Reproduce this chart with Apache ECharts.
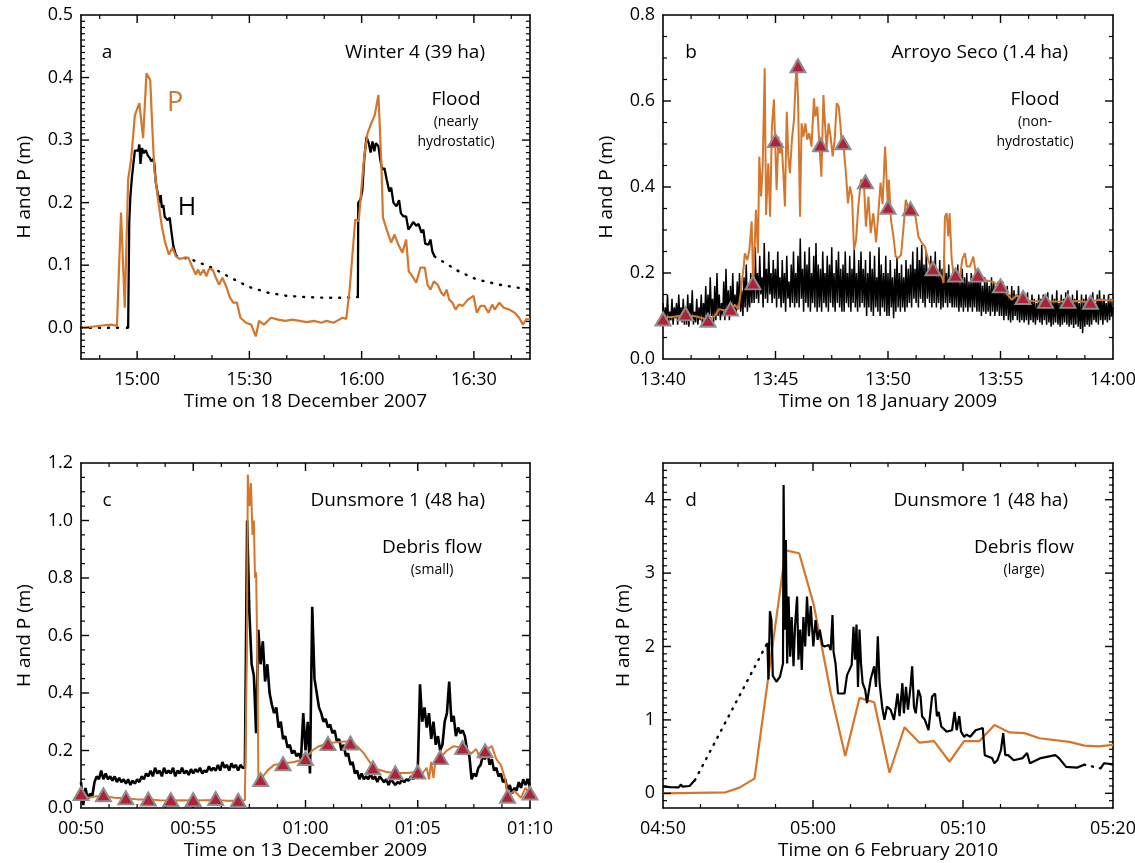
<!DOCTYPE html>
<html>
<head>
<meta charset="utf-8">
<script src="https://cdn.jsdelivr.net/npm/echarts@6/dist/echarts.min.js"></script>
<style>
  html, body { margin: 0; padding: 0; background: #fff; }
  #chart { width: 1135px; height: 863px; }
</style>
</head>
<body>
<div id="chart"></div>
<script>
// ---- panel a : Winter 4, minutes after 14:45 ----
const aStart = '14:45'
const aTicks = ['15:00', '15:30', '16:00', '16:30']
const aYTicks = ['0.0', '0.1', '0.2', '0.3', '0.4', '0.5']
const aP = [[0,0],[3.4,0.002],[6.2,0.004],[8.1,0.005],[9.6,0.003],[10.7,0.184],[11.7,0.032],[12.6,0.237],[13.4,0.269],[14.4,0.34],[15.6,0.359],[16.6,0.303],[17.5,0.407],[18.5,0.396],[19.0,0.327],[19.6,0.253],[20.6,0.205],[21.6,0.162],[22.5,0.136],[23.5,0.117],[24.4,0.128],[25.4,0.114],[26.3,0.11],[27.8,0.112],[28.7,0.112],[29.7,0.098],[30.7,0.085],[31.3,0.093],[31.9,0.084],[32.8,0.093],[33.5,0.082],[34.2,0.094],[35.2,0.093],[35.9,0.082],[36.9,0.069],[37.8,0.08],[38.8,0.066],[39.8,0.048],[40.7,0.04],[41.7,0.04],[42.6,0.016],[44.1,0.008],[45.5,0.005],[46.7,-0.014],[47.6,0.011],[48.9,0.005],[50.8,0.016],[52.7,0.013],[54.6,0.011],[56.5,0.013],[58.4,0.011],[60.3,0.009],[62.3,0.011],[64.2,0.008],[65.6,0.011],[67.5,0.008],[69.0,0.013],[69.9,0.016],[70.9,0.014],[71.8,0.061],[73.3,0.173],[74.2,0.17],[74.7,0.205],[75.7,0.274],[76.6,0.311],[77.6,0.327],[78.5,0.34],[79.5,0.372],[80.3,0.258],[80.7,0.176],[81.7,0.157],[82.9,0.136],[83.8,0.149],[84.8,0.133],[85.9,0.12],[86.9,0.141],[87.6,0.09],[88.6,0.082],[89.6,0.072],[90.7,0.096],[91.9,0.096],[92.6,0.069],[93.4,0.061],[94.3,0.074],[95.3,0.069],[96.3,0.056],[97.0,0.051],[97.7,0.061],[98.4,0.045],[99.3,0.04],[100.1,0.029],[101,0.037],[102,0.035],[103.4,0.045],[104.9,0.051],[105.8,0.024],[106.8,0.035],[107.8,0.035],[108.9,0.024],[109.9,0.037],[110.6,0.029],[111.8,0.04],[113,0.032],[114.5,0.029],[115.9,0.024],[117.1,0.016],[118.1,0.005],[119.1,0.014],[120,0.013]]
const aH1 = [[12.0,0],[12.6,0],[12.9,0.17],[13.2,0.21],[13.6,0.24],[14.0,0.262],[14.4,0.283],[14.9,0.28],[15.3,0.283],[15.6,0.293],[15.9,0.262],[16.3,0.287],[16.8,0.279],[17.3,0.284],[17.8,0.276],[18.3,0.272],[18.8,0.266],[19.3,0.27],[19.6,0.262],[20.0,0.232],[20.5,0.215],[21.0,0.2],[21.3,0.212],[21.6,0.192],[22.0,0.196],[22.4,0.177],[22.8,0.18],[23.2,0.172],[23.7,0.176],[24.2,0.152],[24.7,0.13],[25.4,0.115]]
const aH2 = [[74.0,0.049],[74.1,0.2],[74.7,0.205],[75.2,0.22],[75.7,0.27],[76.3,0.305],[76.9,0.295],[77.4,0.28],[77.9,0.298],[78.4,0.282],[78.8,0.295],[79.5,0.29],[80.0,0.268],[80.5,0.253],[81.1,0.255],[81.7,0.237],[82.4,0.218],[82.9,0.224],[83.5,0.2],[84.3,0.194],[85.0,0.204],[85.5,0.183],[86.2,0.178],[86.9,0.178],[87.5,0.157],[88.1,0.162],[88.8,0.169],[89.6,0.163],[90.2,0.166],[91.0,0.152],[91.5,0.157],[92.0,0.134],[92.9,0.133],[93.4,0.141],[93.9,0.122],[94.5,0.114]]
// dotted (estimated) parts of H
const aHd1 = [[0,0],[12,0]]
const aHd2 = [[25.4,0.115],[30,0.108],[35,0.096],[40,0.08],[45,0.065],[50,0.056],[55,0.051],[60,0.049],[65,0.048],[70,0.048],[74,0.049]]
const aHd3 = [[94.5,0.114],[97.2,0.104],[101,0.09],[105.8,0.077],[112.5,0.068],[120,0.061]]

// ---- panel b : Arroyo Seco, minutes after 13:40 ----
const bStart = '13:40'
const bTicks = ['13:40', '13:45', '13:50', '13:55', '14:00']
const bYTicks = ['0.0', '0.2', '0.4', '0.6', '0.8']
// H sampled every 0.05 min (one row per minute)
const bH = [
  0.13,0.08,0.12,0.09,0.15,0.085,0.11,0.09,0.14,0.08,0.12,0.095,0.13,0.08,0.15,0.09,0.12,0.085,0.14,0.08,
  0.12,0.08,0.15,0.075,0.13,0.09,0.16,0.08,0.11,0.085,0.14,0.08,0.12,0.09,0.15,0.08,0.13,0.09,0.17,0.085,
  0.15,0.09,0.19,0.1,0.14,0.085,0.17,0.09,0.2,0.1,0.15,0.09,0.13,0.1,0.18,0.09,0.21,0.1,0.16,0.09,
  0.17,0.1,0.2,0.11,0.15,0.1,0.18,0.12,0.2,0.11,0.16,0.1,0.19,0.12,0.22,0.11,0.17,0.12,0.2,0.13,
  0.22,0.13,0.26,0.14,0.2,0.13,0.24,0.15,0.19,0.12,0.27,0.14,0.21,0.13,0.25,0.15,0.2,0.13,0.23,0.14,
  0.21,0.12,0.25,0.14,0.19,0.12,0.23,0.13,0.2,0.11,0.24,0.14,0.18,0.12,0.22,0.13,0.25,0.12,0.2,0.13,
  0.24,0.12,0.28,0.14,0.21,0.11,0.25,0.13,0.22,0.12,0.26,0.11,0.2,0.13,0.24,0.12,0.27,0.11,0.22,0.12,
  0.21,0.11,0.25,0.13,0.2,0.12,0.24,0.11,0.22,0.13,0.26,0.12,0.2,0.11,0.23,0.13,0.25,0.12,0.21,0.11,
  0.22,0.11,0.25,0.13,0.2,0.12,0.24,0.11,0.21,0.13,0.255,0.12,0.2,0.11,0.23,0.12,0.25,0.13,0.21,0.12,
  0.23,0.1,0.2,0.12,0.25,0.11,0.21,0.1,0.24,0.12,0.19,0.11,0.26,0.1,0.22,0.12,0.2,0.11,0.24,0.1,
  0.2,0.1,0.23,0.12,0.19,0.095,0.21,0.11,0.235,0.12,0.2,0.11,0.22,0.12,0.19,0.11,0.23,0.12,0.21,0.13,
  0.22,0.12,0.25,0.14,0.21,0.13,0.26,0.12,0.23,0.14,0.265,0.13,0.22,0.12,0.25,0.14,0.21,0.13,0.24,0.12,
  0.22,0.13,0.25,0.12,0.2,0.13,0.23,0.115,0.21,0.12,0.24,0.13,0.2,0.12,0.22,0.13,0.19,0.12,0.21,0.12,
  0.2,0.12,0.22,0.11,0.18,0.12,0.21,0.11,0.19,0.12,0.2,0.11,0.18,0.12,0.2,0.11,0.19,0.12,0.21,0.11,
  0.19,0.11,0.2,0.1,0.17,0.11,0.19,0.105,0.18,0.11,0.17,0.1,0.19,0.11,0.18,0.1,0.17,0.11,0.18,0.1,
  0.17,0.1,0.18,0.09,0.16,0.1,0.17,0.09,0.15,0.085,0.17,0.09,0.16,0.1,0.15,0.09,0.17,0.085,0.15,0.09,
  0.15,0.085,0.14,0.09,0.155,0.08,0.13,0.09,0.15,0.085,0.14,0.08,0.13,0.09,0.15,0.085,0.14,0.08,0.15,0.09,
  0.14,0.08,0.155,0.085,0.13,0.075,0.15,0.08,0.14,0.085,0.16,0.08,0.13,0.075,0.15,0.08,0.14,0.085,0.155,0.08,
  0.16,0.075,0.13,0.08,0.15,0.072,0.14,0.08,0.16,0.075,0.13,0.07,0.15,0.06,0.14,0.075,0.15,0.08,0.13,0.075,
  0.14,0.08,0.155,0.09,0.13,0.085,0.15,0.08,0.16,0.09,0.14,0.08,0.15,0.09,0.13,0.085,0.15,0.09,0.14,0.1,
  0.12
]
const bP = [[0,0.1],[0.3,0.097],[1.0,0.102],[1.5,0.099],[2.0,0.091],[2.3,0.1],[2.5,0.116],[2.7,0.113],[3.0,0.116],[3.2,0.126],[3.35,0.115],[3.45,0.153],[3.57,0.207],[3.64,0.246],[3.75,0.23],[3.84,0.254],[3.94,0.32],[4.01,0.169],[4.13,0.347],[4.22,0.246],[4.28,0.471],[4.36,0.378],[4.43,0.447],[4.52,0.676],[4.58,0.335],[4.68,0.455],[4.76,0.331],[4.84,0.54],[4.93,0.604],[4.98,0.51],[5.05,0.393],[5.13,0.517],[5.2,0.478],[5.27,0.502],[5.35,0.432],[5.42,0.355],[5.5,0.575],[5.57,0.471],[5.64,0.432],[5.73,0.51],[5.82,0.556],[5.88,0.626],[5.94,0.695],[6.01,0.587],[6.09,0.331],[6.16,0.548],[6.24,0.517],[6.33,0.548],[6.41,0.51],[6.5,0.525],[6.6,0.494],[6.71,0.606],[6.77,0.564],[6.86,0.587],[6.95,0.497],[7.04,0.424],[7.13,0.614],[7.2,0.548],[7.27,0.486],[7.36,0.548],[7.45,0.517],[7.54,0.471],[7.63,0.51],[7.72,0.595],[7.81,0.587],[7.88,0.548],[7.94,0.5],[8.04,0.486],[8.13,0.432],[8.22,0.362],[8.31,0.401],[8.4,0.378],[8.49,0.254],[8.58,0.277],[8.68,0.355],[8.8,0.417],[8.93,0.409],[9.02,0.308],[9.13,0.378],[9.23,0.293],[9.35,0.339],[9.47,0.271],[9.57,0.339],[9.67,0.41],[9.76,0.36],[9.87,0.494],[9.94,0.417],[10.0,0.351],[10.04,0.417],[10.13,0.324],[10.24,0.285],[10.34,0.238],[10.46,0.235],[10.58,0.242],[10.68,0.3],[10.79,0.37],[10.9,0.351],[11.05,0.347],[11.2,0.339],[11.35,0.285],[11.5,0.27],[11.64,0.262],[11.79,0.23],[11.94,0.207],[12.09,0.215],[12.24,0.2],[12.39,0.192],[12.47,0.177],[12.53,0.331],[12.61,0.339],[12.68,0.285],[12.74,0.339],[12.83,0.231],[12.92,0.196],[13.05,0.184],[13.2,0.192],[13.3,0.231],[13.42,0.246],[13.5,0.215],[13.64,0.215],[13.79,0.238],[13.9,0.2],[14.09,0.192],[14.31,0.184],[14.61,0.18],[14.9,0.173],[15.13,0.161],[15.32,0.149],[15.5,0.138],[15.72,0.149],[15.94,0.138],[16.39,0.135],[16.9,0.134],[17.42,0.134],[17.91,0.134],[18.46,0.135],[18.9,0.132],[19.36,0.138],[20,0.136]]
// P marks once a minute
const bTri = [0.093,0.105,0.09,0.116,0.177,0.508,0.682,0.498,0.503,0.412,0.353,0.349,0.21,0.195,0.195,0.17,0.143,0.134,0.134,0.132]

// ---- panel c : Dunsmore 1 small debris flow, minutes after 00:50 ----
const cStart = '00:50'
const cTicks = ['00:50', '00:55', '01:00', '01:05', '01:10']
const cYTicks = ['0.0', '0.2', '0.4', '0.6', '0.8', '1.0', '1.2']
// H sampled every 0.1 min
const cH = [
  0.09,0.01,0.07,0.03,0.05,0.04,0.09,0.11,0.1,0.13,
  0.1,0.12,0.1,0.11,0.095,0.11,0.09,0.105,0.09,0.1,
  0.085,0.1,0.08,0.095,0.085,0.1,0.09,0.11,0.1,0.12,
  0.11,0.13,0.11,0.14,0.12,0.13,0.11,0.14,0.12,0.13,
  0.12,0.14,0.11,0.13,0.12,0.14,0.12,0.13,0.115,0.135,
  0.12,0.135,0.125,0.14,0.12,0.13,0.125,0.145,0.13,0.14,
  0.13,0.15,0.13,0.16,0.14,0.15,0.13,0.155,0.14,0.15,
  0.13,0.15,0.14,0.14,1.0,0.68,0.5,0.46,0.26,0.62,
  0.5,0.58,0.44,0.5,0.4,0.36,0.33,0.35,0.28,0.3,
  0.24,0.25,0.21,0.22,0.19,0.2,0.18,0.19,0.17,0.33,
  0.2,0.3,0.12,0.7,0.45,0.4,0.35,0.33,0.3,0.31,
  0.28,0.29,0.26,0.27,0.23,0.24,0.2,0.22,0.18,0.19,
  0.15,0.16,0.12,0.13,0.1,0.12,0.1,0.11,0.1,0.12,
  0.1,0.11,0.09,0.11,0.1,0.09,0.1,0.08,0.1,0.09,
  0.08,0.09,0.085,0.1,0.09,0.1,0.095,0.11,0.1,0.12,
  0.13,0.43,0.3,0.35,0.28,0.33,0.24,0.3,0.22,0.25,
  0.2,0.22,0.3,0.33,0.44,0.3,0.32,0.25,0.28,0.26,
  0.27,0.25,0.2,0.18,0.1,0.12,0.11,0.14,0.15,0.18,
  0.17,0.2,0.15,0.17,0.13,0.14,0.11,0.12,0.09,0.1,
  0.06,0.08,0.05,0.07,0.06,0.09,0.07,0.1,0.08,0.1,
  0.07
]
const cP = [[0,0.06],[0.3,0.035],[0.6,0.04],[1,0.042],[1.5,0.036],[2,0.034],[2.5,0.03],[3,0.03],[3.5,0.027],[4,0.026],[4.5,0.027],[5,0.026],[5.5,0.027],[6,0.028],[6.5,0.025],[7,0.025],[7.3,0.027],[7.39,0.55],[7.43,1.16],[7.5,1.05],[7.57,1.13],[7.64,0.95],[7.7,1.0],[7.75,0.8],[7.8,0.82],[7.86,0.5],[7.9,0.1],[8,0.1],[8.3,0.13],[8.6,0.15],[9,0.155],[9.5,0.16],[10,0.172],[10.3,0.2],[10.6,0.215],[11,0.225],[11.5,0.23],[12,0.232],[12.3,0.215],[12.6,0.19],[12.9,0.155],[13.2,0.135],[13.6,0.125],[14,0.122],[14.5,0.122],[15,0.125],[15.2,0.12],[15.4,0.14],[15.5,0.1],[15.6,0.16],[15.7,0.105],[15.8,0.17],[16,0.175],[16.3,0.2],[16.6,0.215],[17,0.21],[17.4,0.19],[17.6,0.205],[17.8,0.17],[18,0.2],[18.3,0.215],[18.5,0.17],[18.7,0.15],[18.9,0.1],[19,0.04],[19.3,0.06],[19.6,0.035],[19.8,0.07],[20,0.05]]
const cTri = [0.05,0.046,0.035,0.031,0.029,0.029,0.033,0.027,0.099,0.154,0.172,0.224,0.226,0.14,0.122,0.125,0.175,0.21,0.199,0.041,0.052]

// ---- panel d : Dunsmore 1 large debris flow, minutes after 04:50 ----
const dStart = '04:50'
const dTicks = ['04:50', '05:00', '05:10', '05:20']
const dYTicks = ['0', '1', '2', '3', '4']
const dP = [[0,0],[4.18,0.014],[5.1,0.077],[6.1,0.2],[8.17,3.31],[9.08,3.27],[10.05,2.57],[11.19,1.36],[12.15,0.51],[13.1,1.3],[14.08,1.24],[15.1,0.28],[16.1,0.9],[17.1,0.69],[18.07,0.71],[19.1,0.43],[20.07,0.71],[21.08,0.71],[22.1,0.93],[23.1,0.83],[24.1,0.82],[25.1,0.75],[27.1,0.7],[28.1,0.65],[29.05,0.64],[30,0.66]]
const dH1 = [[0,0.09],[0.5,0.085],[1.05,0.082],[1.2,0.12],[1.3,0.09],[1.77,0.1],[2.13,0.18]]
const dH2 = [[6.96,2.05],[7.03,1.55],[7.13,2.48],[7.23,2.36],[7.32,1.6],[7.56,1.52],[7.8,1.59],[8.0,1.77],[8.04,4.2],[8.12,2.23],[8.19,3.45],[8.28,1.77],[8.37,2.68],[8.48,1.86],[8.58,2.4],[8.7,1.73],[8.8,2.27],[8.94,2.68],[9.03,1.82],[9.15,2.23],[9.25,1.68],[9.36,2.4],[9.48,2.0],[9.6,2.68],[9.73,2.14],[9.85,2.55],[10.02,2.0],[10.17,2.36],[10.31,2.09],[10.45,2.23],[10.63,2.02],[10.77,2.0],[11.06,2.02],[11.18,1.95],[11.3,2.43],[11.37,1.93],[11.5,1.77],[11.67,1.36],[12.1,1.36],[12.27,1.61],[12.58,1.75],[12.7,2.27],[12.8,1.82],[12.9,2.3],[13.0,1.45],[13.1,2.23],[13.2,1.77],[13.31,1.5],[13.48,1.41],[13.6,1.23],[13.84,1.55],[14.08,1.73],[14.2,1.45],[14.32,2.14],[14.44,1.5],[14.61,1.18],[14.76,1.0],[14.93,1.18],[15.17,1.14],[15.4,1.0],[15.64,1.36],[15.77,1.05],[15.96,1.5],[16.06,1.09],[16.2,1.45],[16.33,1.14],[16.5,1.45],[16.61,1.73],[16.73,1.18],[16.85,1.09],[17.02,1.41],[17.17,1.32],[17.27,1.05],[17.46,1.0],[17.7,0.86],[17.82,1.09],[17.94,1.32],[18.14,1.36],[18.26,1.05],[18.38,1.11],[18.55,0.91],[18.91,0.84],[19.27,0.86],[19.44,1.11],[19.58,0.86],[19.75,1.05],[19.87,0.84],[20.07,0.77],[20.24,0.8],[20.48,0.77],[20.84,0.86],[21.32,0.89],[21.45,0.52],[21.93,0.48],[22.1,0.41],[22.29,0.45],[22.53,0.59],[22.68,0.82],[22.82,0.52],[23.01,0.52],[23.38,0.45],[23.98,0.48],[24.27,0.55],[24.46,0.41],[25.19,0.48],[26.15,0.52],[26.4,0.48],[26.87,0.36],[27.6,0.35],[28.08,0.39]]
const dH3 = [[29.17,0.34],[29.41,0.41],[29.77,0.4],[30,0.39]]
const dHd1 = [[2.13,0.18],[6.96,2.05]]
const dHd2 = [[28.08,0.39],[29.17,0.34]]

const FONT = '"Open Sans", "DejaVu Sans", sans-serif'
const ORANGE = '#d4762c'
const toMin = s => { const p = s.split(':'); return +p[0] * 60 + +p[1] }
const r3 = v => Math.round(v * 1000) / 1000
const has = (arr, v) => arr.some(m => Math.abs(m - v) < 1e-6)

function steps(from, to, first, step) {
  const out = []
  let v = first
  while (v - step > from + 1e-9) v -= step
  for (; v < to - 1e-9; v += step) if (v > from + 1e-9) out.push(r3(v))
  return out
}

// frame: label axis + plain mirror axis; ticks are drawn by a custom series below
function boxAxes(dim, grid, min, max, majors, labels, name, nameGap) {
  const isX = dim === 'x'
  const sides = isX ? ['bottom', 'top'] : ['left', 'right']
  const black = { color: '#000', width: 1.6 }
  return [{
    type: 'value', gridIndex: grid, position: sides[0], min, max,
    splitLine: { show: false },
    axisLine: { show: true, onZero: false, lineStyle: black },
    axisTick: { show: false },
    axisLabel: {
      show: true, customValues: majors, color: '#000', fontFamily: FONT, fontSize: 18,
      margin: isX ? 12 : 8,
      formatter: v => labels[majors.findIndex(m => Math.abs(m - v) < 1e-6)] || ''
    },
    name, nameLocation: 'middle', nameGap,
    nameTextStyle: { color: '#000', fontFamily: FONT, fontSize: 19 }
  }, {
    type: 'value', gridIndex: grid, position: sides[1], min, max,
    splitLine: { show: false },
    axisLine: { show: true, onZero: false, lineStyle: black },
    axisTick: { show: false },
    axisLabel: { show: false }
  }]
}

// tick list for one panel: [x, y, length, direction] with direction 0 up, 1 down, 2 right, 3 left
function tickList(p, xm, ym) {
  const out = []
  const xIn = xm.filter(v => v > 1e-9 && v < p.span - 1e-9)
  const yIn = ym.filter(v => v > p.ymin + 1e-9 && v < p.ymax - 1e-9)
  const xMin = steps(0, p.span, xm[0], p.xMinor).filter(v => !has(xm, v))
  const yMin = steps(p.ymin, p.ymax, ym[0], p.yMinor).filter(v => !has(ym, v))
  ;[[xIn, 8], [xMin, 4]].forEach(([vals, len]) => vals.forEach(v => {
    out.push([v, p.ymin, len, 0], [v, p.ymax, len, 1])
  }))
  ;[[yIn, 8], [yMin, 4]].forEach(([vals, len]) => vals.forEach(v => {
    out.push([0, v, len, 2], [p.span, v, len, 3])
  }))
  return out
}
const DX = [0, 0, 1, -1], DY = [-1, 1, 0, 0]
function ticks(grid, data) {
  return {
    type: 'custom', xAxisIndex: grid * 2, yAxisIndex: grid * 2, z: 4, clip: false,
    dimensions: ['x', 'y', 'len', 'dir'],
    encode: { x: 0, y: 1 },
    data,
    renderItem: (params, api) => {
      const item = data[params.dataIndex]
      const pt = api.coord([item[0], item[1]])
      const len = item[2], dir = item[3]
      return {
        type: 'line',
        shape: { x1: pt[0], y1: pt[1], x2: pt[0] + DX[dir] * len, y2: pt[1] + DY[dir] * len },
        style: { stroke: '#000', lineWidth: len > 5 ? 1.4 : 1.2 }
      }
    }
  }
}

function line(grid, data, color, width, dash) {
  return {
    type: 'line', xAxisIndex: grid * 2, yAxisIndex: grid * 2, data,
    symbol: 'none',
    lineStyle: { color, width, type: dash || 'solid', cap: dash ? 'round' : 'butt' }
  }
}
function marks(grid, vals) {
  return {
    type: 'scatter', xAxisIndex: grid * 2, yAxisIndex: grid * 2, z: 5,
    data: vals.map((v, i) => [i, v]), symbol: 'triangle', symbolSize: [15, 13],
    itemStyle: { color: '#b3203a', borderColor: '#8e8e8e', borderWidth: 2, opacity: 1 }
  }
}
const sampled = (vals, step) => vals.map((v, i) => [r3(i * step), v])

const xName = ['Time on 18 December 2007', 'Time on 18 January 2009', 'Time on 13 December 2009', 'Time on 6 February 2010']
const yName = 'H and P (m)'

const panels = [
  { start: aStart, span: 120, ticks: aTicks, xMinor: 10, ymin: -0.05, ymax: 0.5, yt: aYTicks, yMinor: 0.01, yGap: 47 },
  { start: bStart, span: 20, ticks: bTicks, xMinor: 1.25, ymin: 0, ymax: 0.8, yt: bYTicks, yMinor: 0.05, yGap: 47 },
  { start: cStart, span: 20, ticks: cTicks, xMinor: 1.25, ymin: 0, ymax: 1.2, yt: cYTicks, yMinor: 0.05, yGap: 47 },
  { start: dStart, span: 30, ticks: dTicks, xMinor: 2.5, ymin: -0.2, ymax: 4.5, yt: dYTicks, yMinor: 0.1, yGap: 30 }
]
const grid = [
  { left: 81, top: 15, width: 449, height: 344, outerBoundsMode: 'none' },
  { left: 663, top: 15, width: 450, height: 344, outerBoundsMode: 'none' },
  { left: 81, top: 463, width: 449, height: 345, outerBoundsMode: 'none' },
  { left: 663, top: 463, width: 450, height: 345, outerBoundsMode: 'none' }
]

let xAxis = [], yAxis = []
const tickSeries = []
panels.forEach((p, g) => {
  const s0 = toMin(p.start)
  const xm = p.ticks.map(t => toMin(t) - s0)
  const ym = p.yt.map(Number)
  xAxis = xAxis.concat(boxAxes('x', g, 0, p.span, xm, p.ticks, xName[g], 33))
  yAxis = yAxis.concat(boxAxes('y', g, p.ymin, p.ymax, ym, p.yt, yName, p.yGap))
  tickSeries.push(ticks(g, tickList(p, xm, ym)))
})

const series = [
  line(0, aHd1, '#000', 2.4, [1, 8]),
  line(0, aHd2, '#000', 2.4, [1, 8]),
  line(0, aHd3, '#000', 2.4, [1, 8]),
  line(0, aH1, '#000', 2.3),
  line(0, aH2, '#000', 2.3),
  line(0, aP, ORANGE, 2.2),

  line(1, sampled(bH, 0.05), '#000', 1.5),
  line(1, bP, ORANGE, 2),
  marks(1, bTri),

  line(2, sampled(cH, 0.1), '#000', 2.6),
  line(2, cP, ORANGE, 2),
  marks(2, cTri),

  line(3, dP, ORANGE, 2.2),
  line(3, dHd1, '#000', 2.4, [1, 7]),
  line(3, dHd2, '#000', 2.4, [1, 7]),
  line(3, dH1, '#000', 2.2),
  line(3, dH2, '#000', 2.2),
  line(3, dH3, '#000', 2.2)
].concat(tickSeries)

function txt(x, y, text, size, align, color) {
  return {
    type: 'text', x, y,
    style: { text, fontSize: size, fontFamily: FONT, fill: color || '#000', align: align || 'center', verticalAlign: 'middle' }
  }
}
const graphic = [
  txt(107, 53, 'a', 19), txt(485, 53, 'Winter 4 (39 ha)', 19, 'right'),
  txt(456, 100, 'Flood', 19), txt(456, 122, '(nearly', 14), txt(456, 142, 'hydrostatic)', 14),
  txt(175, 103, 'P', 27, 'center', ORANGE), txt(187, 208, 'H', 25),

  txt(691, 53, 'b', 19), txt(1068, 53, 'Arroyo Seco (1.4 ha)', 19, 'right'),
  txt(1035, 100, 'Flood', 19), txt(1035, 122, '(non-', 14), txt(1035, 142, 'hydrostatic)', 14),

  txt(107, 501, 'c', 19), txt(485, 501, 'Dunsmore 1 (48 ha)', 19, 'right'),
  txt(432, 548, 'Debris flow', 19), txt(432, 570, '(small)', 14),

  txt(691, 501, 'd', 19), txt(1068, 501, 'Dunsmore 1 (48 ha)', 19, 'right'),
  txt(1024, 548, 'Debris flow', 19), txt(1024, 570, '(large)', 14)
]

const chart = echarts.init(document.getElementById('chart'))
chart.setOption({ animation: false, grid, xAxis, yAxis, series, graphic })
</script>
</body>
</html>
